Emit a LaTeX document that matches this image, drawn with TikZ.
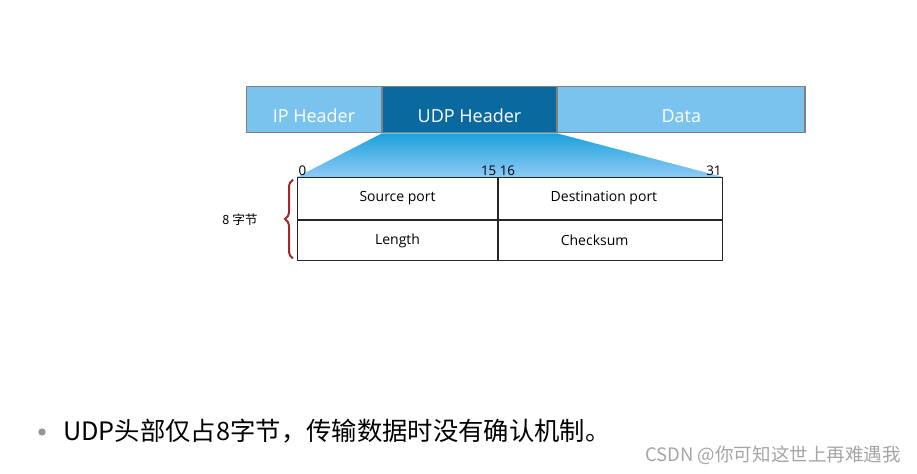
\documentclass[tikz,border=0pt]{standalone}
\usepackage{fontspec}
\setmainfont{Open Sans}
\newfontfamily\cjk{Noto Sans CJK SC}
\usetikzlibrary{
  positioning,
  backgrounds,
  decorations.pathreplacing
}
\definecolor{lightbar}{RGB}{122, 195, 238}
\definecolor{udpcolor}{RGB}{10, 106, 160}
\definecolor{barborder}{RGB}{128, 128, 128}
\definecolor{fantop}{RGB}{27, 161, 218}
\definecolor{fanbottom}{RGB}{143, 203, 247}
\definecolor{bracecolor}{RGB}{164, 38, 44}
\definecolor{bulletgray}{RGB}{150, 150, 150}
\definecolor{markgray}{RGB}{165, 165, 165}

\begin{document}
\begin{tikzpicture}[
    x=0.75pt, y=-0.75pt,
    % Estilos
    barbox/.style={
        rectangle,
        draw=barborder,
        line width=1pt,
        fill=lightbar,
        minimum height=34.5pt,
        inner sep=0pt,
        anchor=north west,
        text=white,
        text height=18.6pt,
        text depth=0pt,
        font=\fontsize{13.5}{16}\selectfont
    },
    udpbox/.style={
        barbox,
        fill=udpcolor
    },
    cell/.style={
        rectangle,
        draw=black!85,
        line width=0.8pt,
        inner sep=0pt,
        anchor=north west,
        font=\fontsize{10.5}{12}\selectfont
    },
    bitlabel/.style={
        inner sep=1pt,
        font=\fontsize{10}{12}\selectfont
    },
    bracestyle/.style={
        draw=bracecolor,
        line width=1.5pt,
        decorate,
        decoration={brace, amplitude=6pt}
    },
    bytelabel/.style={font=\cjk\fontsize{9.5}{12}\selectfont},
    note/.style={font=\cjk\fontsize{19}{22}\selectfont, inner sep=0pt},
    wmark/.style={font=\cjk\fontsize{13.9}{16}\selectfont, text=markgray, inner sep=0pt}
]
\useasboundingbox (0,0) rectangle (917,474);

% ============================================================================
% Barra do datagrama
% ============================================================================
\node[barbox, minimum width=101pt] (ip) at (246,86) {IP Header};
\node[udpbox, minimum width=130.25pt, right=0pt of ip] (udp) {UDP Header};
\node[barbox, minimum width=185.5pt, right=0pt of udp] (data) {Data};

% ============================================================================
% Cabeçalho UDP
% ============================================================================
\node[cell, minimum width=150pt, minimum height=31.5pt] (src) at (297,177) {Source port};
\node[cell, minimum width=168pt, minimum height=31.5pt, right=0pt of src] (dst) {Destination port\hspace*{10pt}};
\node[cell, minimum width=150pt, minimum height=30pt, below=0pt of src] (len) {Length};
\node[cell, minimum width=168pt, minimum height=30pt, right=0pt of len] (chk) {Checksum\hspace*{24pt}};

% Leque
\begin{scope}[on background layer]
\shade[top color=fantop, bottom color=fanbottom]
    (udp.south west) -- (udp.south east) -- (dst.north east) -- (src.north west) -- cycle;
\end{scope}

% Bits
\node[bitlabel, anchor=south west] (bit0) at (src.north west) {0};
\node[bitlabel, anchor=south] (bit15) at (src.north east) {15 16};
\node[bitlabel, anchor=south east] (bit31) at (dst.north east) {31};

% Chave
\draw[bracestyle] ([xshift=-3pt, yshift=2pt]len.south west) -- ([xshift=-3pt, yshift=-2pt]src.north west);
\node[bytelabel] (bytes) at (240,220) {8 字节};

% ============================================================================
% Texto
% ============================================================================
\node[circle, fill=bulletgray, minimum size=5.5pt, inner sep=0pt] (bullet) at (42,432) {};
\node[note, anchor=west] (notetext) at (63,431) {UDP头部仅占8字节，传输数据时没有确认机制。};

\node[wmark, anchor=east] (watermark) at (901,455) {CSDN @你可知这世上再难遇我};

\end{tikzpicture}
\end{document}
